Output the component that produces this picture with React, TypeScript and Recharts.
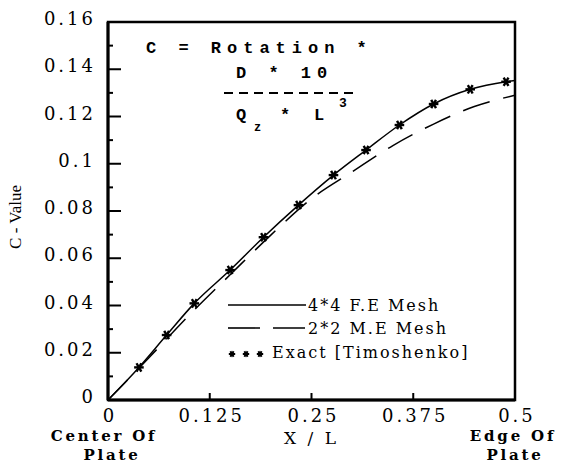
import React from 'react';
import { ComposedChart, Line, Scatter, XAxis, YAxis, ReferenceArea, Legend } from 'recharts';

// ---- data ----
const EXACT_X = [0.038, 0.072, 0.106, 0.15, 0.191, 0.234, 0.277, 0.317, 0.358, 0.4, 0.445, 0.489];
const EXACT_Y = [0.0138, 0.0275, 0.0409, 0.055, 0.0689, 0.0825, 0.0952, 0.1058, 0.1164, 0.1253, 0.1315, 0.1347];

const FE_X = [0, 0.038, 0.072, 0.106, 0.15, 0.191, 0.234, 0.277, 0.317, 0.358, 0.4, 0.445, 0.489, 0.5];
const FE_Y = [0, 0.0138, 0.0275, 0.0409, 0.055, 0.0689, 0.0825, 0.0952, 0.1058, 0.1164, 0.1253, 0.1315, 0.1347, 0.1352];

const ME_X = [0, 0.05, 0.1, 0.15, 0.2, 0.25, 0.3, 0.35, 0.4, 0.45, 0.5];
const ME_Y = [0, 0.0178, 0.036, 0.053, 0.0698, 0.0852, 0.0966, 0.1077, 0.1168, 0.1242, 0.129];

const X_TICKS = [0, 0.125, 0.25, 0.375, 0.5];
const X_TICK_LABELS = ['0', '0.125', '0.25', '0.375', '0.5'];
const Y_TICKS = [0, 0.01, 0.02, 0.03, 0.04, 0.05, 0.06, 0.07, 0.08, 0.09, 0.1, 0.11, 0.12, 0.13, 0.14, 0.15, 0.16];
const Y_TICK_LABELS = ['0', '', '0.02', '', '0.04', '', '0.06', '', '0.08', '', '0.1', '', '0.12', '', '0.14', '', '0.16'];

const SERIES_NAMES = ['4*4 F.E Mesh', '2*2 M.E Mesh', 'Exact [Timoshenko]'];

const feData = FE_X.map((x, i) => ({ x, y: FE_Y[i] }));
const meData = ME_X.map((x, i) => ({ x, y: ME_Y[i] }));
const exactData = EXACT_X.map((x, i) => ({ x, y: EXACT_Y[i] }));

const SERIF = '"DejaVu Serif", serif';
const MONO = '"Liberation Mono", "DejaVu Sans Mono", monospace';

function Asterisk({ cx, cy, r = 4.5, w = 2.2 }: any) {
  const lines = [0, 60, 120].map((a) => {
    const rad = (a * Math.PI) / 180;
    const dx = Math.cos(rad) * r;
    const dy = Math.sin(rad) * r;
    return <line key={a} x1={cx - dx} y1={cy - dy} x2={cx + dx} y2={cy + dy} stroke="#000" strokeWidth={w} />;
  });
  return <g>{lines}</g>;
}

function StarShape(props: any) {
  return <Asterisk cx={props.cx} cy={props.cy} r={4.8} w={2.4} />;
}

function XTick(props: any) {
  const { x, y, payload } = props;
  const v = payload.value;
  const idx = X_TICKS.indexOf(v);
  const label = idx >= 0 ? X_TICK_LABELS[idx] : String(v);
  const axisY = y - 8;
  return (
    <g>
      {v > 0 && v < 0.5 && <line x1={x} y1={axisY} x2={x} y2={axisY - 7} stroke="#000" strokeWidth={2} />}
      <text x={x + 2} y={y} dy={14} textAnchor="middle" fontFamily={SERIF} fontSize={18} letterSpacing={3} fill="#000">
        {label}
      </text>
      {v === 0 && (
        <g fontFamily={SERIF} fontWeight="bold" fontSize={15} letterSpacing={2.8} fill="#000" textAnchor="middle">
          <text x={x - 4} y={441}>Center Of</text>
          <text x={x + 4} y={460}>Plate</text>
        </g>
      )}
      {v === 0.5 && (
        <g fontFamily={SERIF} fontWeight="bold" fontSize={15} letterSpacing={2.8} fill="#000" textAnchor="middle">
          <text x={x - 2} y={441}>Edge Of</text>
          <text x={x} y={460}>Plate</text>
        </g>
      )}
    </g>
  );
}

function YTick(props: any) {
  const { x, y, payload } = props;
  const v = payload.value;
  const idx = Y_TICKS.findIndex((t) => Math.abs(t - v) < 1e-9);
  const label = idx >= 0 ? Y_TICK_LABELS[idx] : '';
  const axisX = x + 12;
  const major = label !== '';
  const edge = idx === 0 || idx === Y_TICKS.length - 1;
  return (
    <g>
      {!edge && (
        <line x1={axisX} y1={y} x2={axisX + (major ? 13 : 5)} y2={y} stroke="#000" strokeWidth={2} />
      )}
      {major && (
        <text x={x} y={y} dy={3} textAnchor="end" fontFamily={SERIF} fontSize={18} letterSpacing={3} fill="#000">
          {label}
        </text>
      )}
    </g>
  );
}

function XLabel(props: any) {
  const vb = props.viewBox || {};
  return (
    <text x={vb.x + vb.width / 2} y={vb.y + 44} textAnchor="middle" fontFamily={SERIF} fontSize={17} letterSpacing={3} fill="#000">
      X / L
    </text>
  );
}

function YLabel() {
  const cx = 21;
  const cy = 217;
  return (
    <text x={cx} y={cy} transform={`rotate(-90 ${cx} ${cy})`} textAnchor="middle" fontFamily='"Liberation Serif", serif' fontSize={17} fill="#000">
      C - Value
    </text>
  );
}

function LegendContent(props: any) {
  const payload: any[] = props.payload || [];
  const rows = SERIES_NAMES.map((n) => payload.find((p) => p.value === n)).filter(Boolean);
  const rowY = [12, 35, 59];
  return (
    <svg width={300} height={72} style={{ display: 'block' }}>
      {rows.map((p: any, i: number) => {
        const yy = rowY[i];
        if (p.value === 'Exact [Timoshenko]') {
          return (
            <g key={p.value}>
              <Asterisk cx={6} cy={yy + 2} r={3.2} w={2} />
              <Asterisk cx={20} cy={yy + 2} r={3.2} w={2} />
              <Asterisk cx={34} cy={yy + 2} r={3.2} w={2} />
              <text x={46} y={yy} dy={6} fontFamily={SERIF} fontSize={16} letterSpacing={2} fill="#000">{p.value}</text>
            </g>
          );
        }
        const dash = p.payload && p.payload.strokeDasharray;
        return (
          <g key={p.value}>
            <line x1={2} y1={yy} x2={80} y2={yy} stroke="#000" strokeWidth={1.6} strokeDasharray={dash ? '32 13' : undefined} />
            <text x={82} y={yy} dy={6} fontFamily={SERIF} fontSize={16} letterSpacing={2} fill="#000">{p.value}</text>
          </g>
        );
      })}
    </svg>
  );
}

export default function App() {
  return (
    <div style={{ position: 'absolute', left: 0, top: 0, width: 566, height: 464, background: '#fff' }}>
      <ComposedChart width={566} height={464} margin={{ top: 22, right: 51, left: 48, bottom: 34 }}>
        <XAxis
          type="number"
          dataKey="x"
          domain={[0, 0.5]}
          ticks={X_TICKS}
          interval={0}
          allowDataOverflow
          height={30}
          tickSize={0}
          tickMargin={8}
          tickLine={false}
          axisLine={{ stroke: '#000', strokeWidth: 3 }}
          tick={<XTick />}
          label={{ content: <XLabel /> }}
        />
        <YAxis
          type="number"
          domain={[0, 0.16]}
          ticks={Y_TICKS}
          interval={0}
          allowDataOverflow
          width={60}
          tickSize={0}
          tickMargin={12}
          tickLine={false}
          axisLine={{ stroke: '#000', strokeWidth: 3 }}
          tick={<YTick />}
          label={{ content: <YLabel /> }}
        />
        <ReferenceArea x1={0} x2={0.5} y1={0} y2={0.16} fill="none" stroke="#000" strokeWidth={2.5} ifOverflow="visible" />
        <Line
          name={SERIES_NAMES[0]}
          data={feData}
          dataKey="y"
          type="monotone"
          stroke="#000"
          strokeWidth={1.5}
          dot={false}
          activeDot={false}
          isAnimationActive={false}
        />
        <Line
          name={SERIES_NAMES[1]}
          data={meData}
          dataKey="y"
          type="monotone"
          stroke="#000"
          strokeWidth={1.5}
          strokeDasharray="28 14"
          dot={false}
          activeDot={false}
          isAnimationActive={false}
        />
        <Scatter
          name={SERIES_NAMES[2]}
          data={exactData}
          dataKey="y"
          fill="#000"
          shape={<StarShape />}
          isAnimationActive={false}
        />
        <Legend
          layout="vertical"
          align="center"
          verticalAlign="middle"
          content={<LegendContent />}
          wrapperStyle={{ left: 226, top: 293, width: 300, height: 72 }}
        />
      </ComposedChart>
      <svg width={566} height={464} style={{ position: 'absolute', left: 0, top: 0, pointerEvents: 'none' }}>
        <g fontFamily={MONO} fontWeight="bold" fontSize={17} letterSpacing={6} fill="#000">
          <text x={146} y={53}>C = Rotation *</text>
          <text x={236} y={78}>D * 10</text>
          <text x={236} y={120}>Q</text>
          <text x={254} y={131} fontSize={12} letterSpacing={0}>z</text>
          <text x={280} y={120}>*</text>
          <text x={314} y={120}>L</text>
          <text x={339} y={107} fontSize={13} letterSpacing={0}>3</text>
        </g>
        <line x1={224} y1={93} x2={358} y2={93} stroke="#000" strokeWidth={2} strokeDasharray="9 6" />
      </svg>
    </div>
  );
}
